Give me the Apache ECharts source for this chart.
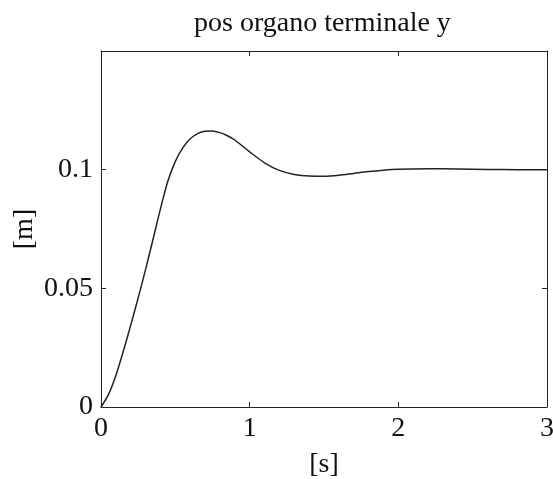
<!DOCTYPE html>
<html>
<head>
<meta charset="utf-8">
<script src="https://cdn.jsdelivr.net/npm/echarts@6/dist/echarts.min.js"></script>
<style>
  html, body { margin: 0; padding: 0; background: #fff; }
  #chart { width: 553px; height: 479px; }
</style>
</head>
<body>
<div id="chart"></div>
<script>
// time [s] and end-effector y position [m]
const tempo = [0, 0.05, 0.1, 0.15, 0.2, 0.25, 0.3, 0.35, 0.4, 0.45, 0.5, 0.55, 0.6, 0.65, 0.7, 0.75, 0.8, 0.85, 0.9, 1.0, 1.1, 1.2, 1.3, 1.4, 1.5, 1.6, 1.7, 1.8, 1.9, 2.0, 2.2, 2.4, 2.6, 2.8, 3.0];
const posY  = [0, 0.0052, 0.0133, 0.0235, 0.0345, 0.046, 0.058, 0.0707, 0.0835, 0.0952, 0.1035, 0.1092, 0.113, 0.1152, 0.1162, 0.1163, 0.1156, 0.1143, 0.1125, 0.1075, 0.1029, 0.0997, 0.098, 0.0973, 0.0972, 0.0976, 0.0984, 0.0992, 0.0998, 0.1002, 0.1004, 0.1003, 0.1001, 0.1, 0.1];

const xTicks = [0, 1, 2, 3];
const yTickLabels = ['0', '0.05', '0.1', ''];

const serif = 'Liberation Serif';
const ink = '#111';

const chart = echarts.init(document.getElementById('chart'));

const data = [];
for (var i = 0; i < tempo.length; i++) {
  data.push([tempo[i], posY[i]]);
}

const frameLine = { show: true, onZero: false, lineStyle: { color: '#222', width: 1 } };
const frameTick = { show: true, inside: true, length: 5, lineStyle: { color: '#222', width: 1 } };

const option = {
  animation: false,
  title: {
    text: 'pos organo terminale y',
    left: 189,
    top: 5,
    textStyle: { fontFamily: serif, fontSize: 28, fontWeight: 'normal', color: ink }
  },
  grid: { left: 101, right: 6, top: 51, bottom: 72, outerBoundsMode: 'none', containLabel: false },
  xAxis: [{
    type: 'value',
    min: 0, max: 3, interval: 1,
    name: '[s]',
    nameLocation: 'middle',
    nameGap: 44,
    nameTextStyle: { fontFamily: serif, fontSize: 28, color: ink },
    axisLine: frameLine,
    axisTick: frameTick,
    splitLine: { show: false },
    axisLabel: {
      margin: 8,
      fontFamily: serif, fontSize: 28, color: ink,
      formatter: function (v) { return xTicks.indexOf(v) >= 0 ? String(v) : ''; }
    }
  }, {
    type: 'value', position: 'top',
    min: 0, max: 3, interval: 1,
    axisLine: frameLine, axisTick: frameTick,
    axisLabel: { show: false }, splitLine: { show: false }
  }],
  yAxis: [{
    type: 'value',
    min: 0, max: 0.15, interval: 0.05,
    name: '[m]',
    nameLocation: 'middle',
    nameRotate: 90,
    nameGap: 62,
    nameMoveOverlap: false,
    nameTextStyle: { fontFamily: serif, fontSize: 28, color: ink },
    axisLine: frameLine,
    axisTick: frameTick,
    splitLine: { show: false },
    axisLabel: {
      margin: 8,
      fontFamily: serif, fontSize: 28, color: ink,
      formatter: function (v, idx) { return yTickLabels[idx] || ''; }
    }
  }, {
    type: 'value', position: 'right',
    min: 0, max: 0.15, interval: 0.05,
    axisLine: frameLine, axisTick: frameTick,
    axisLabel: { show: false }, splitLine: { show: false }
  }],
  series: [{
    type: 'line',
    data: data,
    smooth: 0.3,
    showSymbol: false,
    lineStyle: { color: '#222', width: 1.5 }
  }]
};

chart.setOption(option);
</script>
</body>
</html>
